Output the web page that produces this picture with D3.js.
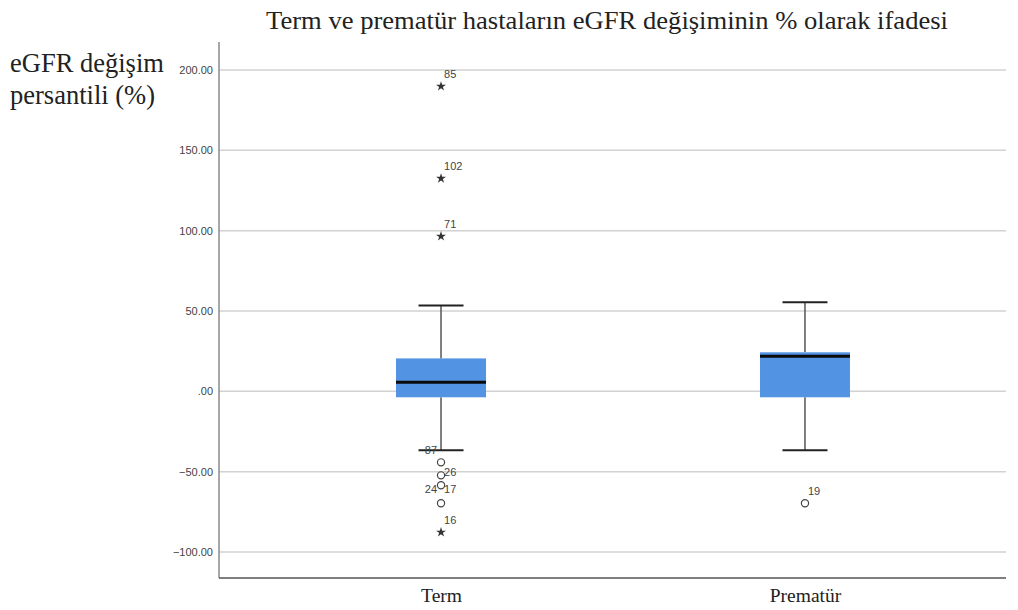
<!DOCTYPE html>
<html>
<head>
<meta charset="utf-8">
<script src="https://cdn.jsdelivr.net/npm/d3@7/dist/d3.min.js"></script>
<style>
  html, body { margin: 0; padding: 0; background: #fff; }
  svg { display: block; }
</style>
</head>
<body>
<svg id="chart" width="1018" height="610"></svg>
<script>
// Groups and five-number summaries (eGFR change, %)
const groups = ["Term", "Prematür"];
const whiskerLow  = [-36.7, -36.7];
const q1          = [-3.7, -3.7];
const median      = [5.6, 21.8];
const q3          = [20.5, 24.3];
const whiskerHigh = [53.5, 55.4];

// Outliers: group, value, kind ("o" = mild, "*" = extreme)
const outGroup = ["Term", "Term", "Term", "Term", "Term", "Term", "Term", "Term", "Prematür"];
const outValue = [189.8, 132.5, 96.5, -44.2, -52.3, -58.5, -69.7, -87.7, -69.7];
const outKind  = ["*", "*", "*", "o", "o", "o", "o", "*", "o"];

// Case numbers and the value each one is written beside
const caseLabels = ["85", "102", "71", "87", "26", "24", "17", "16", "19"];
const caseLabelGroup = ["Term", "Term", "Term", "Term", "Term", "Term", "Term", "Term", "Prematür"];
const caseLabelValue = [189.8, 132.5, 96.5, -36.7, -52.3, -58.5, -58.5, -87.7, -69.7];

const yTicks = [-100, -50, 0, 50, 100, 150, 200];
const tickText = d => d === 0 ? ".00" : d3.format(".2f")(d);

const svg = d3.select("#chart");
const plotLeft = 219, plotRight = 1006, plotTop = 42, plotBottom = 578;

const y = d3.scaleLinear().domain([-100, 200]).range([552, 70]);
const x = d3.scalePoint().domain(groups).range([plotLeft, 1027]).padding(0.61);

// Horizontal gridlines
svg.append("g").selectAll("line").data(yTicks).join("line")
  .attr("x1", plotLeft).attr("x2", plotRight)
  .attr("y1", d => y(d)).attr("y2", d => y(d))
  .attr("stroke", "#d2d2d2").attr("stroke-width", 1.5);

// Y axis with tick labels
const yAxis = svg.append("g").attr("transform", `translate(${plotLeft},0)`)
  .call(d3.axisLeft(y).tickValues(yTicks).tickFormat(tickText).tickSize(0).tickPadding(6));
yAxis.select(".domain").remove();
yAxis.selectAll("text").attr("font-family", "Liberation Sans, Arial, sans-serif")
  .attr("font-size", 11).attr("fill", "#444");

svg.append("line").attr("x1", plotLeft).attr("x2", plotLeft)
  .attr("y1", plotTop).attr("y2", plotBottom).attr("stroke", "#8a8a8a").attr("stroke-width", 1.5);

// X axis baseline and category labels
svg.append("line").attr("x1", plotLeft).attr("x2", plotRight)
  .attr("y1", plotBottom).attr("y2", plotBottom).attr("stroke", "#555").attr("stroke-width", 1.5);
const xAxis = svg.append("g").attr("transform", `translate(0,${plotBottom})`)
  .call(d3.axisBottom(x).tickSize(0).tickPadding(10));
xAxis.select(".domain").remove();
xAxis.selectAll("text").attr("font-family", "Liberation Serif, Times New Roman, serif")
  .attr("font-size", 19.5).attr("fill", "#222");

// Box plots
const boxHalf = 45, capHalf = 22.5;
const boxes = svg.append("g").selectAll("g").data(groups).join("g");
boxes.append("line")
  .attr("x1", d => x(d)).attr("x2", d => x(d))
  .attr("y1", (d, i) => y(whiskerHigh[i])).attr("y2", (d, i) => y(q3[i]))
  .attr("stroke", "#555").attr("stroke-width", 1.5);
boxes.append("line")
  .attr("x1", d => x(d)).attr("x2", d => x(d))
  .attr("y1", (d, i) => y(q1[i])).attr("y2", (d, i) => y(whiskerLow[i]))
  .attr("stroke", "#555").attr("stroke-width", 1.5);
boxes.append("line")
  .attr("x1", d => x(d) - capHalf).attr("x2", d => x(d) + capHalf)
  .attr("y1", (d, i) => y(whiskerHigh[i])).attr("y2", (d, i) => y(whiskerHigh[i]))
  .attr("stroke", "#222").attr("stroke-width", 2);
boxes.append("line")
  .attr("x1", d => x(d) - capHalf).attr("x2", d => x(d) + capHalf)
  .attr("y1", (d, i) => y(whiskerLow[i])).attr("y2", (d, i) => y(whiskerLow[i]))
  .attr("stroke", "#222").attr("stroke-width", 2);
boxes.append("rect")
  .attr("x", d => x(d) - boxHalf).attr("width", boxHalf * 2)
  .attr("y", (d, i) => y(q3[i])).attr("height", (d, i) => y(q1[i]) - y(q3[i]))
  .attr("fill", "#5293e3");
boxes.append("line")
  .attr("x1", d => x(d) - boxHalf).attr("x2", d => x(d) + boxHalf)
  .attr("y1", (d, i) => y(median[i])).attr("y2", (d, i) => y(median[i]))
  .attr("stroke", "#0a0a0a").attr("stroke-width", 3);

// Outlier markers
const star = d3.symbol().type(d3.symbolStar).size(30);
const outliers = outValue.map((v, i) => ({ g: outGroup[i], v, k: outKind[i] }));
const og = svg.append("g");
og.selectAll("circle").data(outliers.filter(d => d.k === "o")).join("circle")
  .attr("cx", d => x(d.g)).attr("cy", d => y(d.v)).attr("r", 3.6)
  .attr("fill", "none").attr("stroke", "#444").attr("stroke-width", 1.2);
og.selectAll("path").data(outliers.filter(d => d.k === "*")).join("path")
  .attr("d", star).attr("transform", d => `translate(${x(d.g)},${y(d.v)})`)
  .attr("fill", "#333");

// Case number labels: most sit up and to the right of their point;
// in the crowded low cluster a few are tucked beside the markers instead.
const labelPlacement = {
  "87": { dx: -4, dy: 4, anchor: "end" },
  "26": { dx: 3, dy: 1, anchor: "start" },
  "24": { dx: -4, dy: 8, anchor: "end" },
  "17": { dx: 3, dy: 8, anchor: "start" }
};
const defaultPlacement = { dx: 3, dy: -8, anchor: "start" };
const labels = caseLabels.map((t, i) => ({ t, g: caseLabelGroup[i], v: caseLabelValue[i] }));
svg.append("g").selectAll("text").data(labels).join("text")
  .attr("x", d => x(d.g) + (labelPlacement[d.t] || defaultPlacement).dx)
  .attr("y", d => y(d.v) + (labelPlacement[d.t] || defaultPlacement).dy)
  .attr("text-anchor", d => (labelPlacement[d.t] || defaultPlacement).anchor)
  .attr("font-family", "Liberation Sans, Arial, sans-serif")
  .attr("font-size", 11).attr("fill", "#444")
  .text(d => d.t);

// Title and y-axis title
svg.append("text").attr("x", 607).attr("y", 29).attr("text-anchor", "middle")
  .attr("font-family", "Liberation Serif, Times New Roman, serif")
  .attr("font-size", 26).attr("fill", "#222")
  .attr("textLength", 682).attr("lengthAdjust", "spacingAndGlyphs")
  .text("Term ve prematür hastaların eGFR değişiminin % olarak ifadesi");
const yt = svg.append("text").attr("font-family", "Liberation Serif, Times New Roman, serif")
  .attr("font-size", 26.5).attr("fill", "#222");
yt.append("tspan").attr("x", 10).attr("y", 72).text("eGFR değişim");
yt.append("tspan").attr("x", 10).attr("y", 104).text("persantili (%)");
</script>
</body>
</html>
